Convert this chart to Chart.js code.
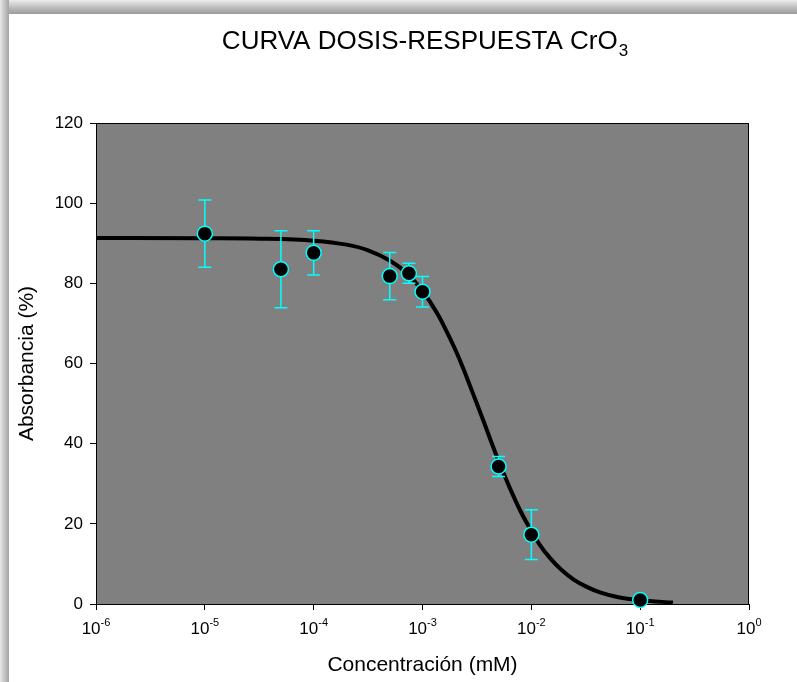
<!DOCTYPE html>
<html>
<head>
<meta charset="utf-8">
<script src="https://cdn.jsdelivr.net/npm/chart.js@4"></script>
<style>
  html, body { margin: 0; padding: 0; background: #ffffff; overflow: hidden; }
  #topband { position: absolute; left: 0; top: 0; width: 797px; height: 14px;
    background: linear-gradient(to bottom, #ececec, #b8b8b8 60%, #9c9c9c); }
  #leftband { position: absolute; left: 0; top: 0; width: 9px; height: 682px;
    background: linear-gradient(to right, #e8e8e8, #bdbdbd 60%, #a4a4a4); }
  #wrap { position: absolute; left: 0; top: 0; width: 797px; height: 682px; }
</style>
</head>
<body>
<div id="topband"></div>
<div id="leftband"></div>
<div id="wrap"><canvas id="c" width="797" height="682"></canvas></div>
<script>
// ---- data ----
const titleMain = 'CURVA DOSIS-RESPUESTA CrO';
const titleSub = '3';
const xAxisTitle = 'Concentración (mM)';
const yAxisTitle = 'Absorbancia (%)';

// measured points (concentration mM, absorbance %, standard deviation)
const concentrations = [1e-5, 5e-5, 1e-4, 5e-4, 7.5e-4, 1e-3, 5e-3, 1e-2, 1e-1];
const absorbance     = [92.4, 83.5, 87.6, 81.8, 82.5, 77.9, 34.3, 17.3, 1.0];
const errorSD        = [8.4, 9.6, 5.5, 5.9, 2.5, 3.8, 2.5, 6.2, 0.4];

// fitted dose-response curve
const curveConc = [1e-6, 1e-5, 3.16e-5, 1e-4, 2e-4, 3.16e-4, 5e-4, 7.08e-4, 1e-3, 1.38e-3,
                   1.66e-3, 2e-3, 2.4e-3, 2.88e-3, 3.47e-3, 4.17e-3, 5.01e-3, 6.31e-3, 7.94e-3, 9.77e-3,
                   1.2e-2, 1.48e-2, 1.91e-2, 2.45e-2, 3.16e-2, 4.27e-2, 6.31e-2, 0.1, 0.2];
const curveAbs  = [91.3, 91.25, 91.15, 90.65, 89.65, 88.25, 85.7, 82.65, 78.1, 72.3,
                   68.1, 63.5, 58.4, 52.8, 47.1, 41.3, 35.6, 29.1, 23.2, 18.7,
                   14.7, 11.5, 8.4, 6.1, 4.4, 2.9, 1.7, 0.95, 0.35];

// axis ticks
const xTickValues = [1e-6, 1e-5, 1e-4, 1e-3, 1e-2, 1e-1, 1];
const xTickBase = '10';
const xTickExponents = ['-6', '-5', '-4', '-3', '-2', '-1', '0'];
const yTickValues = [0, 20, 40, 60, 80, 100, 120];

const FONT = "'Liberation Sans', Arial, Helvetica, sans-serif";

const plotBackground = {
  id: 'plotBackground',
  beforeDatasetsDraw(chart) {
    const {ctx, chartArea: a} = chart;
    ctx.save();
    ctx.fillStyle = '#808080';
    ctx.fillRect(a.left, a.top, a.right - a.left, a.bottom - a.top);
    ctx.strokeStyle = '#000000';
    ctx.lineWidth = 1;
    ctx.strokeRect(a.left + 0.5, a.top + 0.5, a.right - a.left - 1, a.bottom - a.top);
    ctx.restore();
  }
};

const errorBars = {
  id: 'errorBars',
  beforeDatasetDraw(chart, args) {
    if (args.index !== 0) return;
    const {ctx} = chart;
    const xs = chart.scales.x, ys = chart.scales.y;
    ctx.save();
    ctx.strokeStyle = '#00FFFF';
    ctx.lineWidth = 1.5;
    const cap = 6.5;
    concentrations.forEach((c, i) => {
      const px = xs.getPixelForValue(c);
      const yTop = ys.getPixelForValue(absorbance[i] + errorSD[i]);
      const yBot = ys.getPixelForValue(absorbance[i] - errorSD[i]);
      ctx.beginPath();
      ctx.moveTo(px, yTop); ctx.lineTo(px, yBot);
      ctx.moveTo(px - cap, yTop); ctx.lineTo(px + cap, yTop);
      ctx.moveTo(px - cap, yBot); ctx.lineTo(px + cap, yBot);
      ctx.stroke();
    });
    ctx.restore();
  }
};

// title with subscript and x tick labels with superscript exponents
const textDecor = {
  id: 'textDecor',
  afterDraw(chart) {
    const {ctx, chartArea: a} = chart;
    const xs = chart.scales.x;
    ctx.save();
    ctx.fillStyle = '#000000';
    ctx.textBaseline = 'alphabetic';
    ctx.textAlign = 'left';
    // title
    const mainFont = '26px ' + FONT, subFont = '17px ' + FONT;
    ctx.font = mainFont;
    const wMain = ctx.measureText(titleMain).width;
    ctx.font = subFont;
    const wSub = ctx.measureText(titleSub).width;
    const cx = (a.left + a.right) / 2 + 2;
    const x0 = cx - (wMain + wSub) / 2;
    ctx.font = mainFont;
    ctx.fillText(titleMain, x0, 49);
    ctx.font = subFont;
    ctx.fillText(titleSub, x0 + wMain + 1, 56);
    // x tick labels
    const baseFont = '17px ' + FONT, expFont = '11px ' + FONT;
    xTickValues.forEach((v, i) => {
      const px = xs.getPixelForValue(v);
      ctx.font = baseFont;
      const wb = ctx.measureText(xTickBase).width;
      ctx.font = expFont;
      const we = ctx.measureText(xTickExponents[i]).width;
      const lx = px - (wb + we) / 2;
      ctx.font = baseFont;
      ctx.fillText(xTickBase, lx, 634);
      ctx.font = expFont;
      ctx.fillText(xTickExponents[i], lx + wb, 626);
    });
    ctx.restore();
  }
};

new Chart(document.getElementById('c'), {
  type: 'scatter',
  data: {
    datasets: [
      {
        label: 'Datos',
        data: concentrations.map((c, i) => ({x: c, y: absorbance[i]})),
        pointRadius: 7.5,
        pointHoverRadius: 7.5,
        pointBackgroundColor: '#000000',
        pointBorderColor: '#00FFFF',
        pointBorderWidth: 1.5,
        showLine: false,
        clip: false,
        order: 0
      },
      {
        label: 'Ajuste',
        data: curveConc.map((c, i) => ({x: c, y: curveAbs[i]})),
        showLine: true,
        borderColor: '#000000',
        borderWidth: 4,
        pointRadius: 0,
        cubicInterpolationMode: 'monotone',
        borderJoinStyle: 'round',
        borderCapStyle: 'butt',
        fill: false,
        order: 1
      }
    ]
  },
  options: {
    responsive: false,
    animation: false,
    events: [],
    layout: { padding: { left: 0, right: 48, top: 123, bottom: 0 } },
    plugins: {
      legend: { display: false },
      tooltip: { enabled: false },
      title: { display: false }
    },
    scales: {
      x: {
        type: 'logarithmic',
        min: 1e-6,
        max: 1,
        afterBuildTicks(scale) { scale.ticks = xTickValues.map(v => ({value: v, major: true})); },
        afterFit(scale) { scale.height = 78; },
        grid: { display: true, drawOnChartArea: false, drawTicks: true, tickLength: 6, color: '#000000', lineWidth: 1 },
        border: { display: true, color: '#000000', width: 1 },
        ticks: {
          display: false,
          autoSkip: false
        },
        title: {
          display: true,
          text: xAxisTitle,
          color: '#000000',
          font: { family: FONT, size: 21 },
          padding: { top: 0, bottom: 4 }
        }
      },
      y: {
        min: 0,
        max: 120,
        afterBuildTicks(scale) { scale.ticks = yTickValues.map(v => ({value: v})); },
        afterFit(scale) { scale.width = 96; },
        grid: { display: true, drawOnChartArea: false, drawTicks: true, tickLength: 6, color: '#000000', lineWidth: 1 },
        border: { display: true, color: '#000000', width: 1 },
        ticks: {
          color: '#000000',
          padding: 7,
          font: { family: FONT, size: 17 }
        },
        title: {
          display: true,
          text: yAxisTitle,
          color: '#000000',
          font: { family: FONT, size: 21 },
          padding: { top: 15, bottom: 0 }
        }
      }
    }
  },
  plugins: [plotBackground, errorBars, textDecor]
});
</script>
</body>
</html>
